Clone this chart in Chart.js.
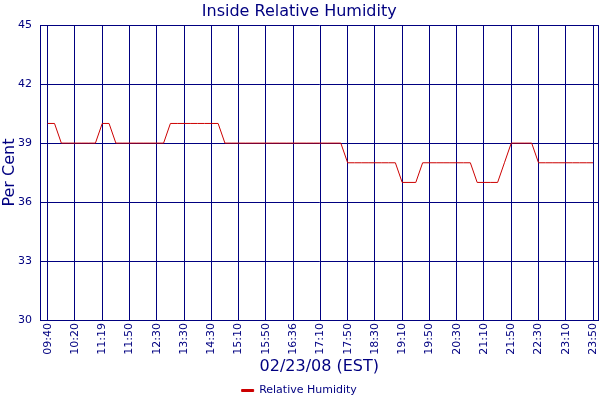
<!DOCTYPE html>
<html>
<head>
<meta charset="utf-8">
<script src="https://cdn.jsdelivr.net/npm/chart.js@4"></script>
<style>
  html, body { margin: 0; padding: 0; background: #fff; }
  #wrap { width: 600px; height: 400px; }
</style>
</head>
<body>
<div id="wrap"><canvas id="humidity"></canvas></div>
<script>
// Tick labels along the x axis (one every 4 readings)
const timeLabels = ['09:40', '10:20', '11:19', '11:50', '12:30', '13:30', '14:30', '15:10', '15:50', '16:36',
  '17:10', '17:50', '18:30', '19:10', '19:50', '20:30', '21:10', '21:50', '22:30', '23:10', '23:50'];
const readingsPerLabel = 4;

// Inside relative humidity readings (%), one per sample
const humidity = [
  40, 40, 39, 39, 39, 39, 39, 39, 40, 40,
  39, 39, 39, 39, 39, 39, 39, 39, 40, 40,
  40, 40, 40, 40, 40, 40, 39, 39, 39, 39,
  39, 39, 39, 39, 39, 39, 39, 39, 39, 39,
  39, 39, 39, 39, 38, 38, 38, 38, 38, 38,
  38, 38, 37, 37, 37, 38, 38, 38, 38, 38,
  38, 38, 38, 37, 37, 37, 37, 38, 39, 39,
  39, 39, 38, 38, 38, 38, 38, 38, 38, 38,
  38
];

const yTicks = [30, 33, 36, 39, 42, 45];

const NAVY = '#000080';
const FONT = '"DejaVu Sans", Verdana, sans-serif';
const BOTTOM_SHIFT = 6;

const points = humidity.map((v, i) => ({ x: i, y: v }));

const ctx = document.getElementById('humidity');
new Chart(ctx, {
  type: 'line',
  data: {
    datasets: [{
      label: 'Relative Humidity',
      data: points,
      borderColor: '#cc0000',
      backgroundColor: '#cc0000',
      borderWidth: 1,
      pointRadius: 0,
      tension: 0,
      fill: false
    }]
  },
  options: {
    responsive: true,
    maintainAspectRatio: false,
    animation: false,
    layout: {
      padding: { left: 0, right: 1.5, top: 0, bottom: -BOTTOM_SHIFT }
    },
    plugins: {
      title: {
        display: true,
        text: 'Inside Relative Humidity',
        color: NAVY,
        font: { family: FONT, size: 16, weight: 'normal' },
        padding: { top: 2, bottom: 4 }
      },
      legend: {
        position: 'bottom',
        labels: {
          color: NAVY,
          font: { family: FONT, size: 11 },
          boxWidth: 12,
          boxHeight: 2,
          padding: 3
        }
      },
      tooltip: { enabled: false }
    },
    scales: {
      x: {
        type: 'linear',
        min: -1.13,
        max: 80.8,
        grid: { color: NAVY, drawTicks: false, lineWidth: 1 },
        border: { color: NAVY },
        afterBuildTicks: function(axis) {
          const ticks = timeLabels.map((t, i) => ({ value: i * readingsPerLabel }));
          ticks.push({ value: axis.max });
          axis.ticks = ticks;
        },
        afterFit: function(axis) {
          axis.height = 400 + BOTTOM_SHIFT - 320 - axis.chart.legend.height;
          axis.paddingLeft = 0;
          axis.paddingRight = 0;
        },
        ticks: {
          autoSkip: false,
          minRotation: 90,
          maxRotation: 90,
          padding: 3,
          color: NAVY,
          font: { family: FONT, size: 11 },
          callback: function(value) {
            if (value % readingsPerLabel !== 0) return '';
            return timeLabels[value / readingsPerLabel] || '';
          }
        },
        title: {
          display: true,
          text: '02/23/08 (EST)',
          color: NAVY,
          font: { family: FONT, size: 16 },
          padding: { top: 0, bottom: 6 }
        }
      },
      y: {
        min: 30,
        max: 45,
        grid: { color: NAVY, drawTicks: false, lineWidth: 1 },
        border: { color: NAVY },
        afterBuildTicks: function(axis) {
          axis.ticks = yTicks.map(v => ({ value: v }));
        },
        afterFit: function(axis) {
          axis.width = 40;
          axis.paddingTop = 0;
          axis.paddingBottom = 0;
        },
        ticks: {
          padding: 8,
          color: NAVY,
          font: { family: FONT, size: 11 }
        },
        title: {
          display: true,
          text: 'Per Cent',
          color: NAVY,
          font: { family: FONT, size: 16 },
          padding: { top: 0, bottom: 0 }
        }
      }
    }
  }
});
</script>
</body>
</html>
